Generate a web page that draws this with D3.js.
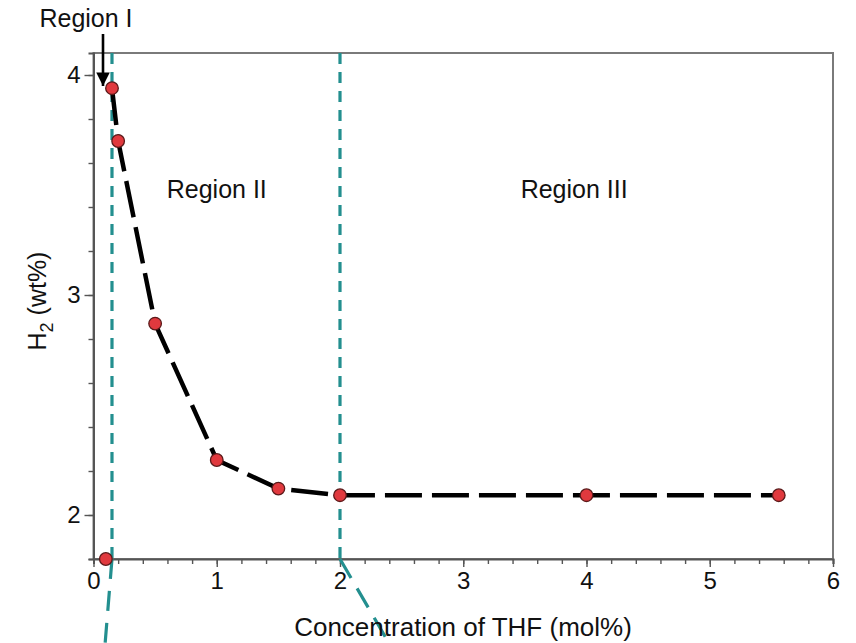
<!DOCTYPE html>
<html><head><meta charset="utf-8">
<script src="https://cdn.jsdelivr.net/npm/d3@7"></script>
<style>body{margin:0;background:#fff}svg{display:block;font-family:"Liberation Sans",Arial,Helvetica,sans-serif}</style>
</head><body><svg id="c" width="856" height="643"></svg>
<script>
const thfConc = [0.15, 0.2, 0.5, 1.0, 1.5, 2.0, 4.0, 5.56];
const h2Wt    = [3.94, 3.70, 2.87, 2.25, 2.12, 2.09, 2.09, 2.09];
const extraConc = [0.1];
const extraH2   = [1.8];
const regionBounds = [0.15, 2.0];
const regionLabels = ["Region I", "Region II", "Region III"];
const regionLabelX = [null, 1.0, 3.9];
const xTicks = [0, 1, 2, 3, 4, 5, 6];
const yTicks = [2, 3, 4];
const xLabel = "Concentration of THF (mol%)";

const svg = d3.select("#c");
const x = d3.scaleLinear().domain([0, 6]).range([93.5, 833]);
const y = d3.scaleLinear().domain([1.8, 4.1]).range([559, 53]);
const axisCol = "#555";
const teal = "#238f8f";
const FONT = "Liberation Sans, Arial, sans-serif";

// frame
svg.append("rect").attr("x", x(0)).attr("y", y(4.1)).attr("width", x(6)-x(0)).attr("height", y(1.8)-y(4.1))
  .attr("fill", "none").attr("stroke", "#7a7a7a").attr("stroke-width", 2);

// x axis
const xMinor = d3.range(0, 6.001, 0.2);
const gx = svg.append("g").attr("transform", `translate(0,${y(1.8)})`);
gx.call(d3.axisBottom(x).tickValues(xMinor).tickSize(5).tickFormat(""));
gx.selectAll("line").attr("stroke", axisCol).attr("stroke-width", 1.4);
gx.select(".domain").attr("stroke", axisCol).attr("stroke-width", 2);
const gx2 = svg.append("g").attr("transform", `translate(0,${y(1.8)})`);
gx2.call(d3.axisBottom(x).tickValues(xTicks).tickSize(8).tickPadding(5).tickFormat(d3.format("d")));
gx2.select(".domain").remove();
gx2.selectAll("line").attr("stroke", axisCol).attr("stroke-width", 1.4);
gx2.selectAll("text").attr("font-size", 24).attr("fill", "#111").attr("font-family", FONT);

// y axis
const yMinor = d3.range(1.8, 4.101, 0.2);
const gy = svg.append("g").attr("transform", `translate(${x(0)},0)`);
gy.call(d3.axisLeft(y).tickValues(yMinor).tickSize(5).tickFormat(""));
gy.selectAll("line").attr("stroke", axisCol).attr("stroke-width", 1.4);
gy.select(".domain").attr("stroke", axisCol).attr("stroke-width", 2);
const gy2 = svg.append("g").attr("transform", `translate(${x(0)},0)`);
gy2.call(d3.axisLeft(y).tickValues(yTicks).tickSize(9).tickPadding(4).tickFormat(d3.format("d")));
gy2.select(".domain").remove();
gy2.selectAll("line").attr("stroke", axisCol).attr("stroke-width", 1.4);
gy2.selectAll("text").attr("font-size", 24).attr("fill", "#111").attr("font-family", FONT);

// region boundaries (teal dashed)
regionBounds.forEach((b) => {
  svg.append("line").attr("x1", x(b)).attr("x2", x(b)).attr("y1", y(4.1)).attr("y2", y(1.8))
    .attr("stroke", teal).attr("stroke-width", 3.2).attr("stroke-dasharray", "11,8");
});
// callout lines extending below
svg.append("line").attr("x1", x(regionBounds[0])).attr("y1", y(1.8)).attr("x2", x(regionBounds[0]) - 7).attr("y2", 645)
  .attr("stroke", teal).attr("stroke-width", 3.2).attr("stroke-dasharray", "20,12");
svg.append("line").attr("x1", x(regionBounds[1])).attr("y1", y(1.8)).attr("x2", x(regionBounds[1]) + 50).attr("y2", 645)
  .attr("stroke", teal).attr("stroke-width", 3.2).attr("stroke-dasharray", "22,12");

// data line
const pts = thfConc.map((c, i) => [c, h2Wt[i]]);
svg.append("path").datum(pts)
  .attr("d", d3.line().x(d => x(d[0])).y(d => y(d[1])))
  .attr("fill", "none").attr("stroke", "#000").attr("stroke-width", 4.5).attr("stroke-dasharray", "37,10");

// markers
const allPts = pts.concat(extraConc.map((c, i) => [c, extraH2[i]]));
svg.selectAll("circle.pt").data(allPts).join("circle").attr("class", "pt")
  .attr("cx", d => x(d[0])).attr("cy", d => y(d[1])).attr("r", 6.3)
  .attr("fill", "#e0393e").attr("stroke", "#5a1a1a").attr("stroke-width", 1.3);

// region labels
const lab = (t, xx, yy) => svg.append("text").attr("x", xx).attr("y", yy).attr("text-anchor", "middle")
  .attr("font-size", 25).attr("fill", "#111").text(t);
lab(regionLabels[0], 86, 27);
lab(regionLabels[1], x(regionLabelX[1]), 198);
lab(regionLabels[2], x(regionLabelX[2]), 198);

// arrow for Region I
svg.append("defs").append("marker").attr("id", "ah").attr("viewBox", "0 0 10 10").attr("refX", 10).attr("refY", 5)
  .attr("markerWidth", 5.2).attr("markerHeight", 5.2).attr("orient", "auto")
  .append("path").attr("d", "M0,0 L10,5 L0,10 Z").attr("fill", "#000");
svg.append("line").attr("x1", 103).attr("y1", 34).attr("x2", 103).attr("y2", 86)
  .attr("stroke", "#000").attr("stroke-width", 2.6).attr("marker-end", "url(#ah)");

// axis labels
svg.append("text").attr("x", 463).attr("y", 636).attr("text-anchor", "middle").attr("font-size", 26).attr("fill", "#111").text(xLabel);
const yl = svg.append("text").attr("transform", `translate(46,301) rotate(-90)`).attr("text-anchor", "middle").attr("font-size", 25).attr("fill", "#111");
yl.append("tspan").text("H");
yl.append("tspan").attr("font-size", 18).attr("dy", 7).text("2");
yl.append("tspan").attr("dy", -7).text(" (wt%)");
</script></body></html>
